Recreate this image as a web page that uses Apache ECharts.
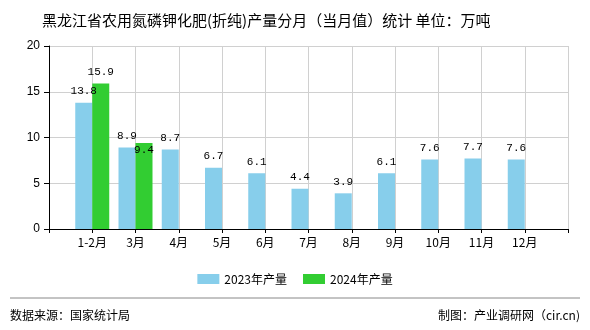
<!DOCTYPE html>
<html>
<head>
<meta charset="utf-8">
<script src="https://cdn.jsdelivr.net/npm/echarts@6/dist/echarts.min.js"></script>
<style>
html,body{margin:0;padding:0;background:#fff;}
#c{width:590px;height:330px;}
</style>
</head>
<body>
<div id="c"></div>
<script>
const titleText = '黑龙江省农用氮磷钾化肥(折纯)产量分月（当月值）统计 单位：万吨';
const months = ['1-2月','3月','4月','5月','6月','7月','8月','9月','10月','11月','12月'];
const values2023 = [13.8, 8.9, 8.7, 6.7, 6.1, 4.4, 3.9, 6.1, 7.6, 7.7, 7.6];
const values2024 = [15.9, 9.4];
const seriesNames = ['2023年产量','2024年产量'];
const yTicks = [0, 5, 10, 15, 20];
const sourceText = '数据来源：国家统计局';
const creditText = '制图：产业调研网（cir.cn)';

const cjk = '"Noto Sans CJK SC", sans-serif';
const axisData = [''].concat(months, ['']);
const pad = arr => [null].concat(arr, new Array(axisData.length - 1 - arr.length).fill(null));

const chart = echarts.init(document.getElementById('c'), null, {renderer: 'canvas'});
const labelStyle = {show: true, position: 'top', distance: 6, color: '#000', fontFamily: '"Liberation Mono", monospace', fontSize: 11};
chart.setOption({
  animation: false,
  backgroundColor: '#fff',
  title: {
    text: titleText, left: 37, top: 8,
    textStyle: {fontFamily: cjk, fontSize: 15, fontWeight: 'normal', color: '#000'}
  },
  legend: {
    data: seriesNames, top: 268, left: 'center', itemWidth: 22, itemHeight: 10, itemGap: 16,
    icon: 'rect',
    textStyle: {fontFamily: cjk, fontSize: 12, color: '#000'}
  },
  grid: {left: 49, right: 22, top: 46, bottom: 101},
  xAxis: {
    type: 'category', data: axisData, boundaryGap: false,
    axisLine: {lineStyle: {color: '#000', width: 1}},
    axisTick: {show: true, length: 4, lineStyle: {color: '#000'}},
    axisLabel: {color: '#000', fontFamily: cjk, fontSize: 12, margin: 7, interval: 0},
    splitLine: {show: true, lineStyle: {color: '#d0d0d0'}}
  },
  yAxis: {
    type: 'value', min: yTicks[0], max: yTicks[yTicks.length - 1], interval: 5,
    axisLine: {show: true, lineStyle: {color: '#000'}},
    axisTick: {show: true, length: 5, lineStyle: {color: '#000'}},
    axisLabel: {color: '#000', fontFamily: 'Liberation Sans, sans-serif', fontSize: 12, margin: 9},
    splitLine: {show: true, lineStyle: {color: '#d0d0d0'}}
  },
  series: [
    {
      name: seriesNames[0], type: 'bar', data: pad(values2023),
      barWidth: 17, barGap: '0%', itemStyle: {color: '#87CEEB', borderWidth: 0, borderRadius: 0},
      label: labelStyle
    },
    {
      name: seriesNames[1], type: 'bar',
      data: pad(values2024).map((v, i) => (i === 2 && v != null) ? {value: v, label: {position: 'insideTop', distance: 2}} : v),
      barWidth: 17, barGap: '0%', itemStyle: {color: '#32CD32', borderWidth: 0, borderRadius: 0},
      label: labelStyle
    }
  ],
  graphic: [
    {type: 'line', shape: {x1: 10, y1: 298, x2: 580, y2: 298}, style: {stroke: '#888', lineWidth: 1}},
    {type: 'text', left: 10, top: 309, style: {text: sourceText, font: '12px "Noto Sans CJK SC"', fill: '#000'}},
    {type: 'text', right: 10, top: 309, style: {text: creditText, font: '12px "Noto Sans CJK SC"', fill: '#000'}}
  ]
});
</script>
</body>
</html>
